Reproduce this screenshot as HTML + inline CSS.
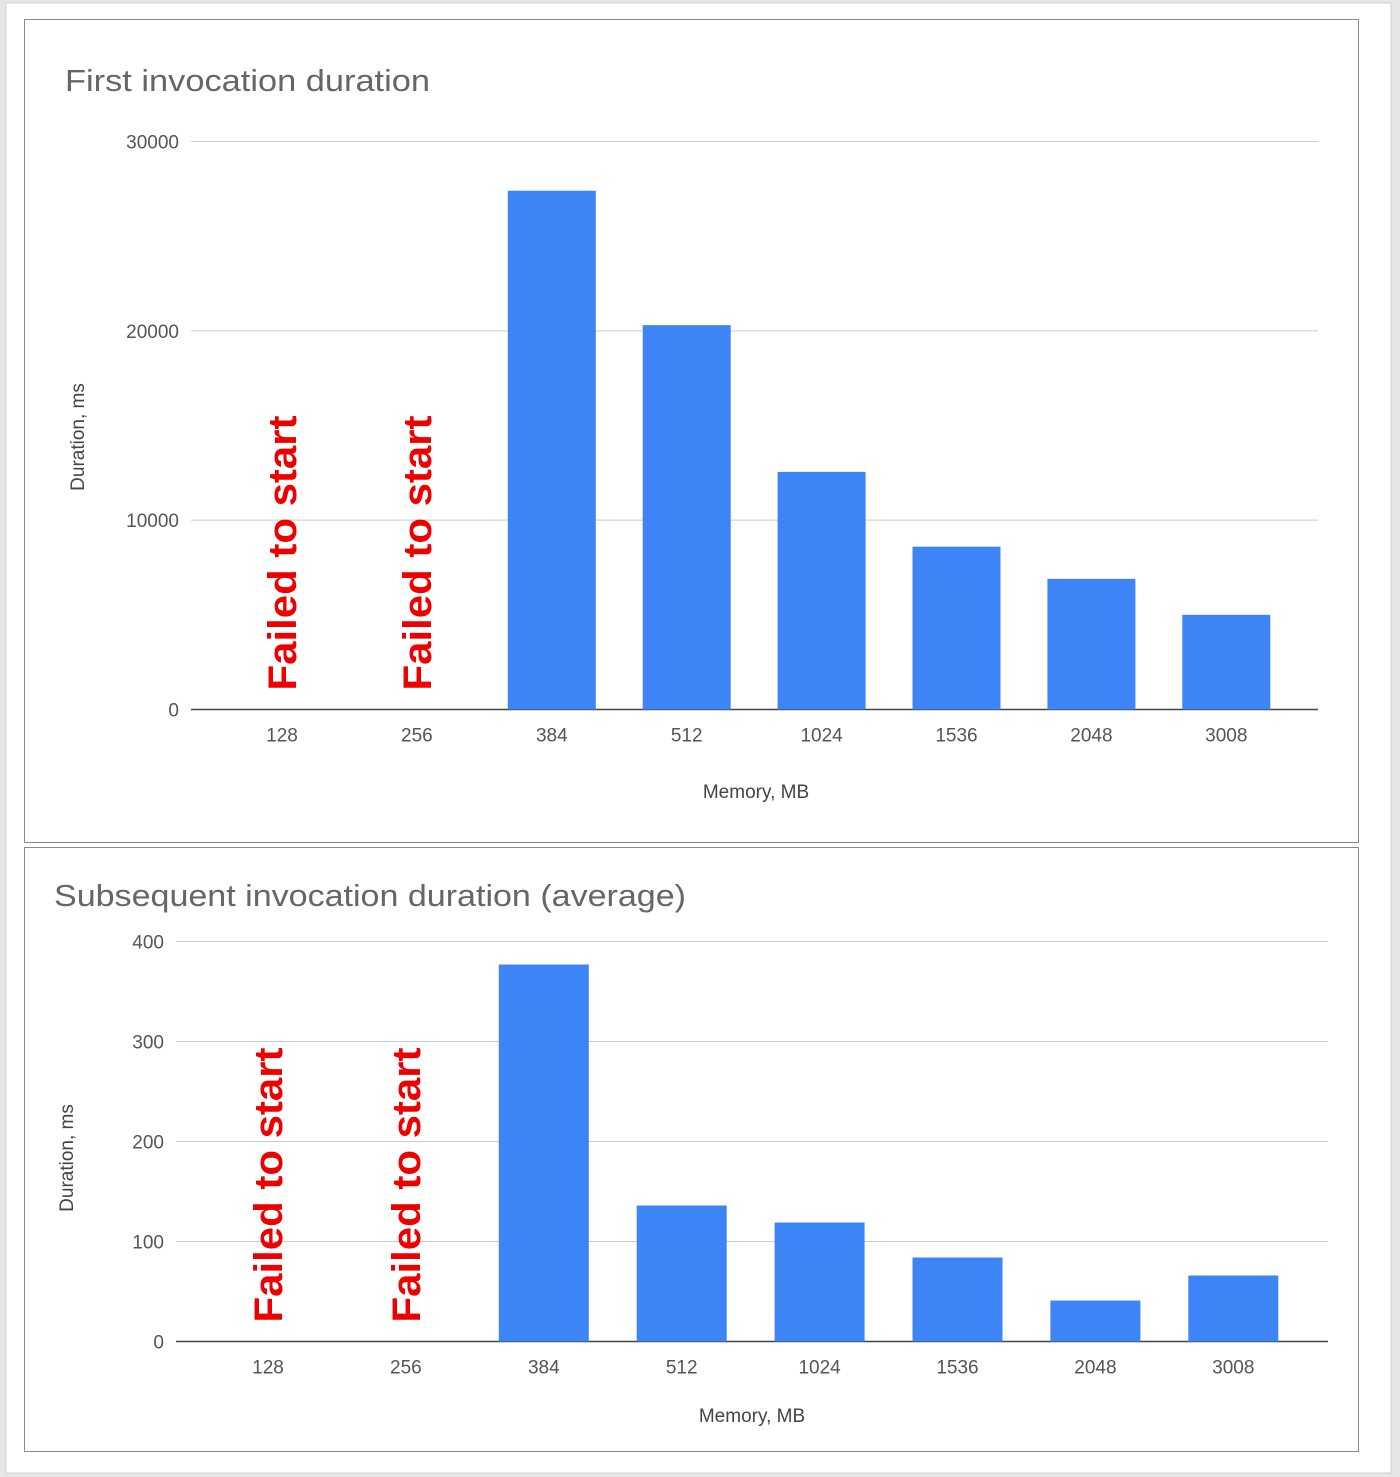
<!DOCTYPE html>
<html><head><meta charset="utf-8"><style>
html,body{margin:0;padding:0;background:#e6e6e6;}
svg{display:block;font-family:"Liberation Sans",Roboto,sans-serif;}
</style></head><body>
<svg id="svg" width="1400" height="1477" viewBox="0 0 1400 1477">
<rect x="6" y="3" width="1385" height="1470" fill="#fff" stroke="#d0d0d0"/>
<rect x="24.5" y="19.5" width="1334" height="823" fill="#fff" stroke="#8a8a8a"/>
<rect x="24.5" y="847.5" width="1334" height="604" fill="#fff" stroke="#8a8a8a"/>
<g id="c1"></g>
<g id="c2"></g>
</svg>
<script>
const categories = ["128","256","384","512","1024","1536","2048","3008"];
const firstValues = [null,null,27400,20300,12550,8600,6900,5000];
const firstTicks = [0,10000,20000,30000];
const subsequentValues = [null,null,377,136,119,84,41,66];
const subsequentTicks = [0,100,200,300,400];
const failedLabel = "Failed to start";
const NS="http://www.w3.org/2000/svg";
function mk(tag,attrs,parent,text){const e=document.createElementNS(NS,tag);for(const k in attrs)e.setAttribute(k,attrs[k]);if(text!==undefined)e.textContent=text;parent.appendChild(e);return e;}
function drawChart(g,cfg,values,ticks){
  const y=v=>cfg.y0-(v-ticks[0])/(ticks[ticks.length-1]-ticks[0])*(cfg.y0-cfg.yTop);
  const cx=i=>cfg.firstCenter+i*cfg.band;
  const t=mk('text',{x:cfg.titleX,y:cfg.titleY,'font-size':31,fill:'#666',textLength:cfg.titleLen,lengthAdjust:'spacingAndGlyphs'},g,cfg.title);
  
  
  ticks.forEach(v=>{
    const l=mk('line',{x1:cfg.axL,x2:cfg.axR,y1:y(v),y2:y(v),stroke:v===0?'#444':'#ccc','stroke-width':v===0?1.5:1},g);
    
    
    const tx=mk('text',{x:cfg.axL-12,y:y(v)+7,'text-anchor':'end','font-size':19,fill:'#555'},g,String(v));
    
    
  });
  categories.forEach((c,i)=>{
    const v=values[i];
    if(v!==null){
      const r=mk('rect',{x:cx(i)-cfg.bw/2,y:y(v),width:cfg.bw,height:y(0)-y(v),fill:'#3d85f6'},g);
      
      
    } else {
      const f=mk('text',{transform:`translate(${cx(i)+14},${y(0)-19}) rotate(-90)`,'font-size':40,'font-weight':'bold',fill:'#ee0000',textLength:275,lengthAdjust:'spacingAndGlyphs'},g,failedLabel);
      
      
    }
    const xl=mk('text',{x:cx(i),y:y(0)+32,'text-anchor':'middle','font-size':19,fill:'#555'},g,c);
    
    
  });
  const xt=mk('text',{x:cfg.xTitleX,y:cfg.xTitleY,'text-anchor':'middle','font-size':19,fill:'#444'},g,'Memory, MB');
  
  
  const yt=mk('text',{transform:`translate(${cfg.yTitleX},${cfg.yTitleY}) rotate(-90)`,'text-anchor':'middle','font-size':19,fill:'#444'},g,'Duration, ms');
  
  
}
drawChart(document.getElementById('c1'),{title:'First invocation duration',titleX:65,titleY:91,titleLen:365,y0:709.5,yTop:141.5,axL:191,axR:1318,firstCenter:282,band:134.9,bw:88,xTitleX:756,xTitleY:798,yTitleX:84,yTitleY:437},firstValues,firstTicks);
drawChart(document.getElementById('c2'),{title:'Subsequent invocation duration (average)',titleX:54,titleY:906,titleLen:632,y0:1341.5,yTop:941.5,axL:176,axR:1328,firstCenter:268,band:137.9,bw:90,xTitleX:752,xTitleY:1422,yTitleX:73,yTitleY:1158},subsequentValues,subsequentTicks);
</script>
</body></html>
